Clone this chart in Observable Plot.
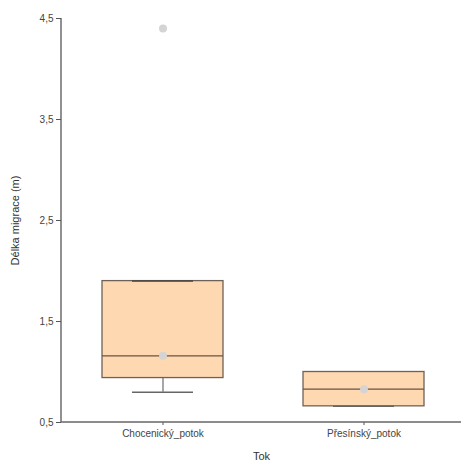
<!DOCTYPE html>
<html><head><meta charset="utf-8">
<script src="https://cdn.jsdelivr.net/npm/d3@7"></script>
<script src="https://cdn.jsdelivr.net/npm/@observablehq/plot@0.6"></script>
<style>body{margin:0;background:#fff;} svg{display:block;}</style>
</head><body><div id="chart"></div>
<script>
const categories = ["Chocenický_potok", "Přesínský_potok"];
const q1 = [0.94, 0.66];
const median = [1.16, 0.83];
const q3 = [1.9, 1.0];
const whiskerLow = [0.8, 0.66];
const whiskerHigh = [1.9, null];
const means = [1.16, 0.83];
const outlierCat = ["Chocenický_potok"];
const outlierVal = [4.4];
const yTicks = [0.5, 1.5, 2.5, 3.5, 4.5];

const boxes = categories.map((c, i) => ({c, q1: q1[i], med: median[i], q3: q3[i], lo: whiskerLow[i], hi: whiskerHigh[i], mean: means[i]}));
const outliers = outlierCat.map((c, i) => ({c, v: outlierVal[i]}));
const fmt = d => d.toFixed(1).replace(".", ",");

const axisLines = (index, scales, values, dims) => {
  const g = d3.create("svg:g");
  g.append("line").attr("x1", dims.marginLeft).attr("x2", dims.marginLeft)
    .attr("y1", scales.y(4.5)).attr("y2", scales.y(0.5)).attr("stroke", "#555").attr("stroke-width", 1.3);
  g.append("line").attr("x1", dims.marginLeft).attr("x2", dims.width)
    .attr("y1", scales.y(0.5)).attr("y2", scales.y(0.5)).attr("stroke", "#666").attr("stroke-width", 1.5);
  return g.node();
};

const chart = Plot.plot({
  width: 461, height: 462,
  marginLeft: 61, marginRight: 0, marginTop: 18, marginBottom: 40,
  style: {fontFamily: "Liberation Sans, Arial, sans-serif", fontSize: "10px", color: "#444", background: "#fff"},
  x: {domain: categories, paddingInner: 0.4, paddingOuter: 0.2, align: 0.5, label: null, range: [61, 464]},
  y: {domain: [0.5, 4.5], label: null},
  marks: [
    Plot.ruleX(boxes, {x: "c", y1: "lo", y2: "q1", stroke: "#777", strokeWidth: 1.3}),
    Plot.ruleX(boxes.filter(d => d.hi != null), {x: "c", y1: "q3", y2: "hi", stroke: "#777", strokeWidth: 1.3}),
    Plot.barY(boxes, {x: "c", y1: "q1", y2: "q3", fill: "#fdd8b0", stroke: "#6e6258", strokeWidth: 1.3}),
    Plot.tickY(boxes, {x: "c", y: "lo", stroke: "#666", strokeWidth: 1.5, insetLeft: 30, insetRight: 30}),
    Plot.tickY(boxes.filter(d => d.hi != null), {x: "c", y: "hi", stroke: "#444", strokeWidth: 1.5, insetLeft: 30, insetRight: 30}),
    Plot.tickY(boxes, {x: "c", y: "med", stroke: "#6b5443", strokeWidth: 1.3}),
    Plot.dot(boxes, {x: "c", y: "mean", r: 4, fill: "#d4d4d4", stroke: "none"}),
    Plot.dot(outliers, {x: "c", y: "v", r: 4, fill: "#d4d4d4", stroke: "none"}),
    Plot.axisY({ticks: yTicks, tickFormat: fmt, tickSize: 5, tickPadding: 3, stroke: "#555", label: null, fontSize: 10}),
    Plot.axisX({tickSize: 3, tickPadding: 4, stroke: "#555", label: null, fontSize: 10}),
    Plot.text(["Tok"], {frameAnchor: "bottom", dy: 37, fontSize: 11, fill: "#333"}),
    Plot.text(["Délka migrace (m)"], {frameAnchor: "left", textAnchor: "middle", dx: -46, rotate: -90, fontSize: 11, fill: "#333"}),
    axisLines
  ]
});
document.getElementById("chart").append(chart);
</script></body></html>
